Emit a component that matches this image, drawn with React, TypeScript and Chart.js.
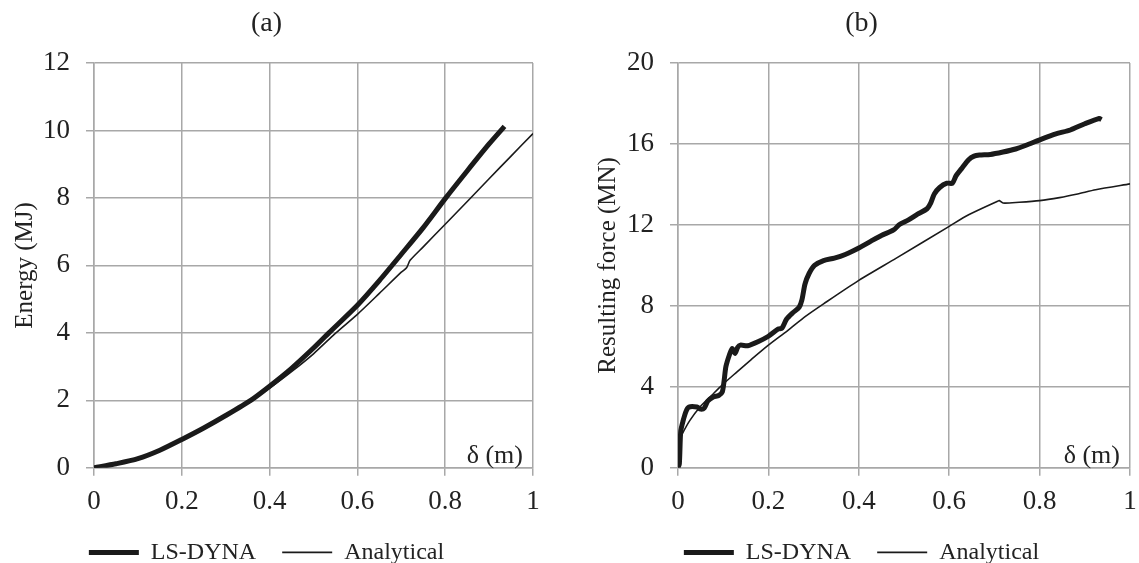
import React, { useEffect, useRef } from 'react';
import { Chart, registerables } from 'chart.js';

Chart.register(...registerables);

const FONT = '"Liberation Serif", "Times New Roman", serif';
const TEXT_COLOR = '#222222';
const GRID_COLOR = '#a8a8a8';

// Shared x axis tick labels (δ in m)
const xTickLabels = ['0', '0.2', '0.4', '0.6', '0.8', '1'];

// (a) Energy (MJ)
const energyTickLabels = ['0', '2', '4', '6', '8', '10', '12'];
const energyLsX = [0, 0.05, 0.1, 0.15, 0.2, 0.25, 0.3, 0.357, 0.4, 0.45, 0.5, 0.535, 0.6, 0.65, 0.7, 0.75, 0.8, 0.85, 0.9, 0.935];
const energyLsY = [0, 0.12, 0.27, 0.52, 0.84, 1.18, 1.55, 2.0, 2.42, 2.95, 3.55, 4.0, 4.82, 5.55, 6.33, 7.12, 7.98, 8.8, 9.6, 10.12];
const energyAnX = [0, 0.05, 0.1, 0.15, 0.2, 0.25, 0.3, 0.35, 0.4, 0.45, 0.5, 0.551, 0.6, 0.65, 0.7, 0.712, 0.72, 0.75, 0.8, 0.853, 0.9, 0.95, 1.0];
const energyAnY = [0, 0.11, 0.27, 0.52, 0.82, 1.15, 1.52, 1.92, 2.36, 2.85, 3.38, 4.0, 4.55, 5.17, 5.8, 5.93, 6.15, 6.55, 7.22, 7.93, 8.57, 9.24, 9.91];

// (b) Resulting force (MN)
const forceTickLabels = ['0', '4', '8', '12', '16', '20'];
const forceLsX = [0, 0.003, 0.006, 0.011, 0.018, 0.024, 0.042, 0.05, 0.058, 0.066, 0.078, 0.09, 0.098, 0.102, 0.106, 0.114, 0.12, 0.126, 0.132, 0.138, 0.154, 0.178, 0.2, 0.222, 0.23, 0.24, 0.254, 0.268, 0.274, 0.281, 0.29, 0.302, 0.322, 0.346, 0.37, 0.4, 0.427, 0.45, 0.477, 0.49, 0.51, 0.53, 0.551, 0.559, 0.567, 0.579, 0.595, 0.607, 0.615, 0.627, 0.643, 0.655, 0.667, 0.691, 0.719, 0.747, 0.773, 0.803, 0.836, 0.868, 0.9, 0.932, 0.937];
const forceLsY = [0, 0.2, 1.8, 2.3, 2.8, 3.0, 3.0, 2.9, 2.95, 3.3, 3.5, 3.57, 3.75, 4.3, 5.0, 5.6, 5.9, 5.65, 5.95, 6.06, 6.03, 6.24, 6.5, 6.86, 6.9, 7.34, 7.66, 7.93, 8.28, 9.08, 9.6, 10.0, 10.24, 10.36, 10.54, 10.86, 11.2, 11.48, 11.75, 12.02, 12.25, 12.53, 12.8, 13.08, 13.53, 13.85, 14.06, 14.06, 14.42, 14.77, 15.22, 15.4, 15.45, 15.48, 15.6, 15.75, 15.96, 16.23, 16.5, 16.69, 17.0, 17.26, 17.2];
const forceAnX = [0, 0.003, 0.01, 0.026, 0.05, 0.074, 0.098, 0.13, 0.162, 0.2, 0.242, 0.282, 0.322, 0.4, 0.483, 0.6, 0.643, 0.707, 0.711, 0.719, 0.755, 0.8, 0.844, 0.884, 0.924, 1.0];
const forceAnY = [0, 1.35, 1.7, 2.33, 3.04, 3.57, 4.1, 4.73, 5.35, 6.06, 6.77, 7.48, 8.1, 9.26, 10.36, 11.93, 12.5, 13.17, 13.2, 13.08, 13.12, 13.2, 13.35, 13.53, 13.74, 14.03];

const seriesNames = ['LS-DYNA', 'Analytical'];

function pairs(xs: number[], ys: number[]) {
  return xs.map((x, i) => ({ x, y: ys[i] }));
}

const deltaLabelPlugin = {
  id: 'deltaLabel',
  afterDatasetsDraw(chart: any) {
    const { ctx, chartArea } = chart;
    ctx.save();
    ctx.font = `26px ${FONT}`;
    ctx.fillStyle = TEXT_COLOR;
    ctx.textAlign = 'right';
    ctx.textBaseline = 'middle';
    ctx.fillText('δ (m)', chartArea.right - 10, chartArea.bottom - 12);
    ctx.restore();
  },
};

type PanelProps = {
  title: string;
  yTitle: string;
  yMax: number;
  yStep: number;
  yTicks: string[];
  lsX: number[];
  lsY: number[];
  anX: number[];
  anY: number[];
  width: number;
  height: number;
  yAxisWidth: number;
  padRight: number;
  yTitlePad: number;
};

function Panel(p: PanelProps) {
  const ref = useRef<HTMLCanvasElement | null>(null);
  useEffect(() => {
    if (!ref.current) return;
    const chart = new Chart(ref.current, {
      type: 'line',
      data: {
        datasets: [
          {
            label: seriesNames[0],
            data: pairs(p.lsX, p.lsY),
            borderColor: '#1a1a1a',
            backgroundColor: '#1a1a1a',
            borderWidth: 5,
            pointRadius: 0,
            tension: 0.25,
          },
          {
            label: seriesNames[1],
            data: pairs(p.anX, p.anY),
            borderColor: '#1a1a1a',
            backgroundColor: '#1a1a1a',
            borderWidth: 1.6,
            pointRadius: 0,
            tension: 0.25,
          },
        ],
      },
      options: {
        responsive: false,
        animation: false,
        devicePixelRatio: 1,
        layout: { padding: { left: 0, right: p.padRight, top: 0, bottom: -11.4 } },
        plugins: {
          title: {
            display: true,
            text: p.title,
            font: { family: FONT, size: 28, weight: 'normal' },
            color: TEXT_COLOR,
            padding: { top: 7, bottom: 22.4 },
          },
          legend: {
            position: 'bottom',
            labels: {
              usePointStyle: true,
              pointStyle: 'line',
              pointStyleWidth: 50,
              font: { family: FONT, size: 24 },
              color: TEXT_COLOR,
              padding: 26,
            },
          },
          tooltip: { enabled: false },
        },
        scales: {
          x: {
            type: 'linear',
            min: 0,
            max: 1,
            ticks: {
              stepSize: 0.2,
              autoSkip: false,
              maxRotation: 0,
              padding: 10,
              font: { family: FONT, size: 27 },
              color: TEXT_COLOR,
              callback: (_v: any, i: number) => xTickLabels[i],
            },
            grid: { color: GRID_COLOR, lineWidth: 1.5, tickLength: 8 },
            border: { color: GRID_COLOR, width: 1.5 },
            afterFit: (s: any) => {
              s.height = 46.6;
              s.paddingLeft = 0;
              s.paddingRight = 0;
            },
          },
          y: {
            type: 'linear',
            min: 0,
            max: p.yMax,
            ticks: {
              stepSize: p.yStep,
              autoSkip: false,
              padding: 16,
              font: { family: FONT, size: 27 },
              color: TEXT_COLOR,
              callback: (_v: any, i: number) => p.yTicks[i],
            },
            title: {
              display: true,
              text: p.yTitle,
              font: { family: FONT, size: 25 },
              color: TEXT_COLOR,
              padding: { top: p.yTitlePad, bottom: 0 },
            },
            grid: { color: GRID_COLOR, lineWidth: 1.5, tickLength: 8 },
            border: { color: GRID_COLOR, width: 1.5 },
            afterFit: (s: any) => {
              s.width = p.yAxisWidth;
              s.paddingTop = 0;
              s.paddingBottom = 0;
            },
          },
        },
      },
      plugins: [deltaLabelPlugin],
    } as any);
    return () => chart.destroy();
  }, []);
  return <canvas ref={ref} width={p.width} height={p.height} style={{ display: 'block', width: p.width, height: p.height }} />;
}

export default function App() {
  return (
    <div style={{ position: 'absolute', left: 0, top: 0, width: 1139, height: 563, background: '#ffffff' }}>
      <div style={{ position: 'absolute', left: 0, top: 0 }}>
        <Panel
          title="(a)"
          yTitle="Energy (MJ)"
          yMax={12}
          yStep={2}
          yTicks={energyTickLabels}
          lsX={energyLsX}
          lsY={energyLsY}
          anX={energyAnX}
          anY={energyAnY}
          width={546}
          height={563}
          yAxisWidth={94}
          padRight={13}
          yTitlePad={10}
        />
      </div>
      <div style={{ position: 'absolute', left: 593, top: 0 }}>
        <Panel
          title="(b)"
          yTitle="Resulting force (MN)"
          yMax={20}
          yStep={4}
          yTicks={forceTickLabels}
          lsX={forceLsX}
          lsY={forceLsY}
          anX={forceAnX}
          anY={forceAnY}
          width={546}
          height={563}
          yAxisWidth={85}
          padRight={9}
          yTitlePad={0}
        />
      </div>
    </div>
  );
}
